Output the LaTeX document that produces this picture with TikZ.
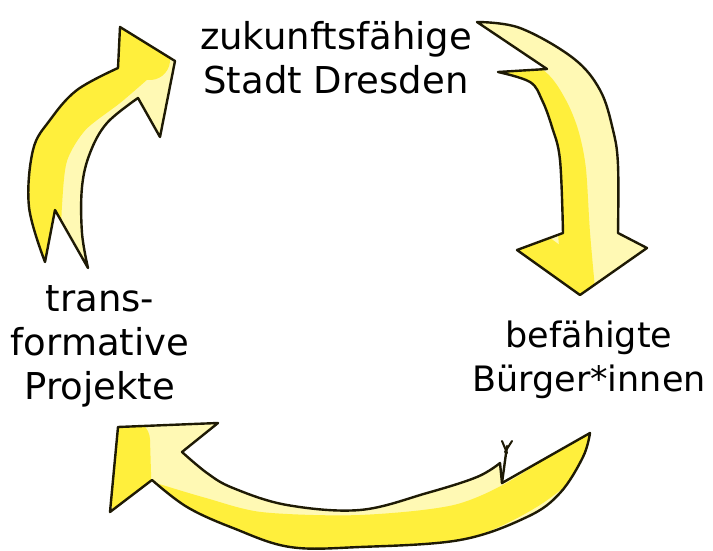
\documentclass[tikz,border=0pt]{standalone}
\usepackage{fontspec}
\setmainfont{DejaVu Sans}
\begin{document}
\begin{tikzpicture}[x=1pt,y=-1pt]
\definecolor{hiyellow}{HTML}{FFF9B4}
\definecolor{deepyellow}{HTML}{FFEF3C}
\definecolor{inkline}{HTML}{1E1A05}
\tikzset{
  outline/.style={draw=inkline, line width=2.4pt, line join=round, line cap=round},
  handtext/.style={font=\fontsize{37}{44}\selectfont, align=center, text=black, inner sep=0pt},
  band/.style={draw=deepyellow, line width=36pt, line cap=round, line join=round},
}
\useasboundingbox (0,0) rectangle (713,551);
\fill[white] (0,0) rectangle (713,551);

% arrow from the projects up to the city
\def\arrowone{(45,262) -- plot[smooth,tension=0.6] coordinates {(45,262) (29,207) (33,150) (50,120) (77,90) (118,68)}
  -- (120,27) -- (175,61) -- (160,137) -- (138,98)
  -- plot[smooth,tension=0.6] coordinates {(138,98) (107,123) (90,153) (82,187) (82,233) (88,268)}
  -- (55,210) -- cycle}
% arrow from the city down to the citizens
\def\arrowtwo{(477,22) -- plot[smooth,tension=0.6] coordinates {(477,22) (520,28) (573,58) (600,90) (613,130) (618,165) (618,233)}
  -- (647,248) -- (580,295) -- (517,250) -- (563,233)
  -- plot[smooth,tension=0.6] coordinates {(563,233) (560,160) (552,127) (542,100) (530,82) (498,72)}
  -- (547,69) -- cycle}
% arrow from the citizens back to the projects
\def\arrowthree{(110,512) -- (118,427) -- (218,423) -- (182,452)
  -- plot[smooth,tension=0.6] coordinates {(182,452) (207,473) (233,488) (287,505) (360,510) (427,493) (477,477) (500,463)}
  -- (502,483) -- (590,433)
  -- plot[smooth,tension=0.6] coordinates {(590,433) (583,457) (560,493) (527,517) (460,540) (360,547) (290,547) (233,528) (187,507) (152,480)}
  -- cycle}

\fill[hiyellow] \arrowone;
\begin{scope}
  \clip \arrowone;
  \draw[band] plot[smooth] coordinates {(42,275) (44,205) (50,155) (72,118) (110,88) (140,62)};
  \draw[band, line width=40pt] (128,48) -- (150,60);
\end{scope}
\draw[outline] \arrowone;

\fill[hiyellow] \arrowtwo;
\begin{scope}
  \clip \arrowtwo;
  \draw[band, line width=32pt] plot[smooth] coordinates {(500,66) (535,84) (552,108) (563,135) (570,170) (574,233) (580,300)};
  \draw[band, line width=34pt] (535,248) -- (572,275);
\end{scope}
\draw[outline] \arrowtwo;

\fill[hiyellow] \arrowthree;
\begin{scope}
  \clip \arrowthree;
  \draw[band] plot[smooth] coordinates {(150,500) (200,515) (260,530) (360,533) (460,522) (530,490) (595,438)};
  \draw[band, line width=40pt] (130,440) -- (132,505);
\end{scope}
\draw[outline] \arrowthree;
% pen strokes at the upper tail end
\draw[outline] (502,483) -- (507,446);
\draw[outline, line width=2pt] (502,441) -- (507,453);
\draw[outline, line width=2pt] (512,441) -- (505,452);

\node[handtext] (city) at (336,58) {zukunftsfähige\\Stadt Dresden};
\node[handtext, font=\fontsize{35}{44}\selectfont] (citizens) at (589,360) {befähigte\\Bürger*innen};
\node[handtext] (projects) at (100,346) {trans-\\formative\\Projekte};
\end{tikzpicture}
\end{document}
